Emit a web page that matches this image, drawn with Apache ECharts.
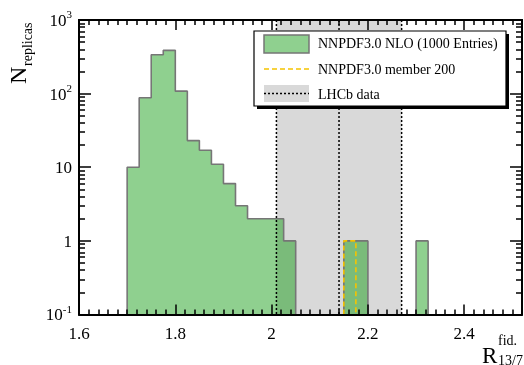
<!DOCTYPE html>
<html>
<head>
<meta charset="utf-8">
<script src="https://cdn.jsdelivr.net/npm/echarts@6/dist/echarts.min.js"></script>
<style>
  html, body { margin: 0; padding: 0; background: #ffffff; }
  #chart { width: 524px; height: 365px; }
</style>
</head>
<body>
<div id="chart"></div>
<script>
// Replica distribution: lower bin edges and entries per bin (bin width 0.025)
const binLow = [1.700, 1.725, 1.750, 1.775, 1.800, 1.825, 1.850, 1.875, 1.900, 1.925,
                1.950, 1.975, 2.000, 2.025, 2.150, 2.175, 2.300];
const binCount = [10, 88, 337, 387, 108, 23, 17, 11, 6, 3,
                  2, 2, 2, 1, 1, 1, 1];
const binWidth = 0.025;

// Single replica (member 200)
const memberLow = [2.150];
const memberCount = [1];

// LHCb measurement: central value and uncertainty band
const lhcbLow = 2.01;
const lhcbCentral = 2.14;
const lhcbHigh = 2.27;

// Axis ranges and ticks
const xMin = 1.6, xMax = 2.52, xStep = 0.2;
const yMin = 0.1, yMax = 1000;
const yMinorTicks = [0.2, 0.3, 0.4, 0.5, 0.6, 0.7, 0.8, 0.9,
                     2, 3, 4, 5, 6, 7, 8, 9,
                     20, 30, 40, 50, 60, 70, 80, 90,
                     200, 300, 400, 500, 600, 700, 800, 900];
const yDecadeLabels = { '-1': ['10', '-1'], '0': ['1', ''], '1': ['10', ''], '2': ['10', '2'], '3': ['10', '3'] };

const SERIF = 'Liberation Serif';
const GREEN = 'rgba(6,150,6,0.45)';
const OUTLINE = '#767676';
const BAND = '#d9d9d9';
const GOLD = '#f5c400';

// Turn bins into closed step outlines, one per run of adjacent bins
function stepOutlines(lows, counts, width) {
  const groups = [];
  let pts = null, prevEnd = null;
  lows.forEach((x, i) => {
    if (pts === null || Math.abs(x - prevEnd) > 1e-9) {
      if (pts) { pts.push([prevEnd, yMin]); groups.push(pts); }
      pts = [[x, yMin]];
    }
    pts.push([x, counts[i]]);
    pts.push([x + width, counts[i]]);
    prevEnd = x + width;
  });
  if (pts) { pts.push([prevEnd, yMin]); groups.push(pts); }
  return groups;
}

const histGroups = stepOutlines(binLow, binCount, binWidth);
const memberGroups = stepOutlines(memberLow, memberCount, binWidth);

const axisLine = { show: true, onZero: false, lineStyle: { color: '#000', width: 2 } };
const majorTick = (len) => ({ show: true, inside: true, length: len, lineStyle: { color: '#000', width: 1.5 } });

function xAxisDef(pos, labels) {
  return {
    type: 'value', position: pos, min: xMin, max: xMax, interval: xStep, z: 10,
    axisLine: axisLine,
    axisTick: majorTick(10),
    minorTick: { show: true, splitNumber: 10, length: 5, lineStyle: { color: '#000', width: 1.5 } },
    splitLine: { show: false },
    axisLabel: labels ? {
      show: true, margin: 12, fontFamily: SERIF, fontSize: 17, color: '#000',
      showMaxLabel: false,
      formatter: (v) => String(Math.round(v * 10) / 10)
    } : { show: false }
  };
}

function yAxisDef(pos, minor, labels) {
  const ax = {
    type: 'log', logBase: 10, position: pos, min: yMin, max: yMax, z: 10,
    axisLine: axisLine,
    splitLine: { show: false },
    axisTick: majorTick(minor ? 6 : 12),
    axisLabel: { show: false }
  };
  if (minor) {
    ax.axisTick.customValues = yMinorTicks;
  }
  if (labels) {
    ax.axisLabel = {
      show: true, margin: 7, color: '#000', fontFamily: SERIF,
      formatter: (v) => {
        const e = Math.round(Math.log10(v));
        const parts = yDecadeLabels[String(e)];
        return parts[1] ? '{b|' + parts[0] + '}{s|' + parts[1] + '}' : '{b|' + parts[0] + '}';
      },
      rich: {
        b: { fontFamily: SERIF, fontSize: 17, color: '#000', verticalAlign: 'bottom', lineHeight: 20 },
        s: { fontFamily: SERIF, fontSize: 11, color: '#000', verticalAlign: 'top', lineHeight: 20 }
      }
    };
  }
  return ax;
}

const series = [];

// LHCb uncertainty band
series.push({
  type: 'custom', xAxisIndex: 0, yAxisIndex: 0, z: 1, silent: true,
  data: [[lhcbLow, lhcbHigh]],
  encode: { x: [0, 1] },
  renderItem: (params, api) => {
    const cs = params.coordSys;
    const a = api.coord([api.value(0), yMax]);
    const b = api.coord([api.value(1), yMin]);
    return { type: 'rect', shape: { x: a[0], y: cs.y, width: b[0] - a[0], height: cs.height },
             style: { fill: BAND } };
  }
});

// NNPDF3.0 NLO replicas
histGroups.forEach((pts, k) => {
  series.push({
    type: 'line', name: k === 0 ? 'NNPDF3.0 NLO (1000 Entries)' : undefined,
    xAxisIndex: 0, yAxisIndex: 0, z: 2, silent: true,
    data: pts, symbol: 'none', smooth: false, animation: false,
    lineStyle: { color: OUTLINE, width: 1.6 },
    areaStyle: { color: GREEN, opacity: 1, origin: 'start' }
  });
});

// LHCb central value and band edges
series.push({
  type: 'custom', xAxisIndex: 0, yAxisIndex: 0, z: 4, silent: true,
  data: [[lhcbLow], [lhcbCentral], [lhcbHigh]],
  encode: { x: 0 },
  renderItem: (params, api) => {
    const cs = params.coordSys;
    const p = api.coord([api.value(0), yMin]);
    return { type: 'line', shape: { x1: p[0], y1: cs.y, x2: p[0], y2: cs.y + cs.height },
             style: { stroke: '#000', lineWidth: 1.5, lineDash: [2, 2] } };
  }
});

// NNPDF3.0 member 200
memberGroups.forEach((pts) => {
  series.push({
    type: 'line', xAxisIndex: 0, yAxisIndex: 0, z: 5, silent: true,
    data: pts, symbol: 'none', smooth: false, animation: false,
    lineStyle: { color: GOLD, width: 1.6, type: [5, 3] }
  });
});

// Legend box
const LX = 254, LY = 31, LW = 252, LH = 75;
const legendFont = '14px "' + SERIF + '"';
const graphic = [
  { type: 'rect', z: 20, shape: { x: LX + 3, y: LY + 3, width: LW, height: LH }, style: { fill: '#000' } },
  { type: 'rect', z: 21, shape: { x: LX, y: LY, width: LW, height: LH }, style: { fill: '#fff', stroke: '#000', lineWidth: 1.2 } },
  { type: 'rect', z: 22, shape: { x: 264, y: 35, width: 45, height: 18 }, style: { fill: GREEN, stroke: OUTLINE, lineWidth: 1.5 } },
  { type: 'text', z: 22, x: 318, y: 44, style: { text: 'NNPDF3.0 NLO (1000 Entries)', font: legendFont, fill: '#000', verticalAlign: 'middle' } },
  { type: 'line', z: 22, shape: { x1: 264, y1: 69, x2: 309, y2: 69 }, style: { stroke: GOLD, lineWidth: 1.6, lineDash: [5, 3] } },
  { type: 'text', z: 22, x: 318, y: 70, style: { text: 'NNPDF3.0 member 200', font: legendFont, fill: '#000', verticalAlign: 'middle' } },
  { type: 'rect', z: 22, shape: { x: 264, y: 85, width: 45, height: 17 }, style: { fill: BAND } },
  { type: 'line', z: 23, shape: { x1: 264, y1: 93.5, x2: 309, y2: 93.5 }, style: { stroke: '#000', lineWidth: 1.5, lineDash: [2, 2] } },
  { type: 'text', z: 22, x: 318, y: 95, style: { text: 'LHCb data', font: legendFont, fill: '#000', verticalAlign: 'middle' } },
  // Y axis title: N with subscript, reading upwards
  { type: 'text', z: 22, x: 19.5, y: 84, rotation: Math.PI / 2,
    style: { text: 'N', font: '24px "' + SERIF + '"', fill: '#000', verticalAlign: 'middle', align: 'left' } },
  { type: 'text', z: 22, x: 28.5, y: 66, rotation: Math.PI / 2,
    style: { text: 'replicas', font: '14px "' + SERIF + '"', fill: '#000', verticalAlign: 'middle', align: 'left' } },
  // X axis title: R with superscript and subscript
  { type: 'text', z: 22, x: 482, y: 368, style: { text: 'R', font: '23px "' + SERIF + '"', fill: '#000', verticalAlign: 'bottom', align: 'left' } },
  { type: 'text', z: 22, x: 498, y: 348, style: { text: 'fid.', font: '14px "' + SERIF + '"', fill: '#000', verticalAlign: 'bottom', align: 'left' } },
  { type: 'text', z: 22, x: 498, y: 368, style: { text: '13/7', font: '14px "' + SERIF + '"', fill: '#000', verticalAlign: 'bottom', align: 'left' } }
];

const chart = echarts.init(document.getElementById('chart'), null, { renderer: 'canvas' });
chart.setOption({
  animation: false,
  backgroundColor: '#ffffff',
  grid: { left: 79, top: 20, right: 2, bottom: 50.5, containLabel: false },
  xAxis: [xAxisDef('bottom', true), xAxisDef('top', false)],
  yAxis: [
    yAxisDef('left', false, true),
    yAxisDef('left', true, false),
    yAxisDef('right', false, false),
    yAxisDef('right', true, false)
  ],
  series: series,
  graphic: graphic
});
</script>
</body>
</html>
